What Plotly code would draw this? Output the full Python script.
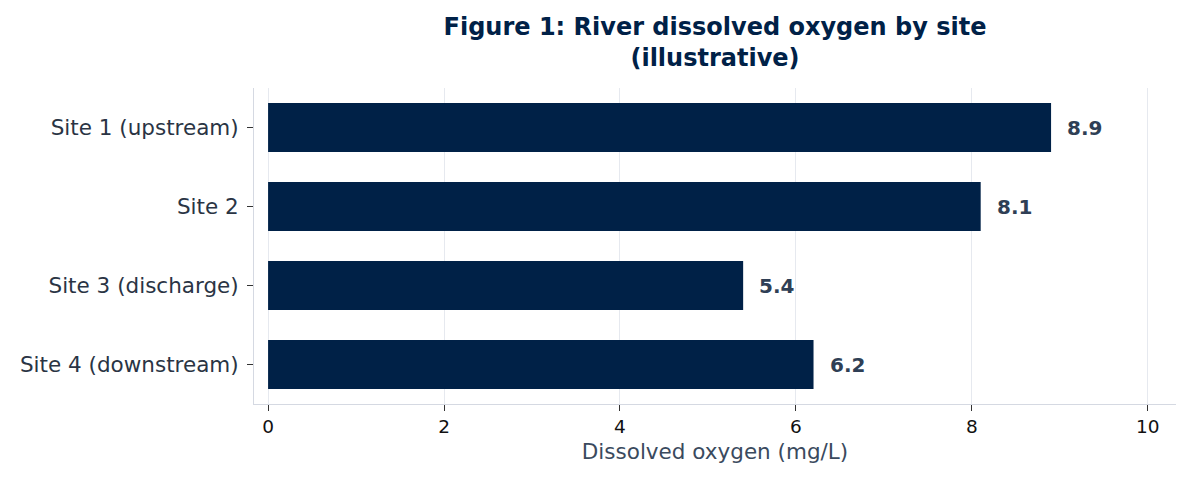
import plotly.graph_objects as go

sites = ["Site 1 (upstream)", "Site 2", "Site 3 (discharge)", "Site 4 (downstream)"]
oxygen = [8.9, 8.1, 5.4, 6.2]
x_ticks = [0, 2, 4, 6, 8, 10]

navy = "#002147"
font_family = "DejaVu Sans"

fig = go.Figure()
fig.add_trace(go.Bar(
    x=oxygen,
    y=sites,
    orientation="h",
    marker=dict(color=navy, line=dict(width=0)),
    width=0.62,
    hoverinfo="x+y",
))

# value labels just past the end of each bar
for site, val in zip(sites, oxygen):
    fig.add_annotation(
        x=val, y=site, text=f"<b>{val:.1f}</b>",
        showarrow=False, xanchor="left", xshift=14,
        font=dict(family=font_family, size=20, color="#2f3f55"),
    )

fig.update_layout(
    width=1196,
    height=481,
    margin=dict(l=246, r=28, t=80, b=85),
    paper_bgcolor="white",
    plot_bgcolor="white",
    font=dict(family=font_family),
    showlegend=False,
    title=dict(
        text="<b>Figure 1: River dissolved oxygen by site<br>(illustrative)</b>",
        x=0.5, xref="paper", xanchor="center",
        y=0.944, yref="container", yanchor="top",
        font=dict(family=font_family, size=24, color=navy),
    ),
)

fig.update_xaxes(
    range=[-0.16, 10.32],
    tickvals=x_ticks,
    ticks="outside", ticklen=6, tickcolor="#333333",
    tickfont=dict(family=font_family, size=18.5, color="#111111"),
    showgrid=True, gridcolor="#e6e9ef", gridwidth=1,
    showline=True, linecolor="#d5d9e2", linewidth=1,
    zeroline=False,
    title=dict(text="Dissolved oxygen (mg/L)", standoff=7,
               font=dict(family=font_family, size=21.5, color="#3a4a5e")),
)

fig.update_yaxes(
    autorange="reversed",
    ticks="outside", ticklen=6, tickcolor="#333333",
    ticklabelstandoff=4,
    tickfont=dict(family=font_family, size=21.5, color="#2a3444"),
    showgrid=False,
    showline=True, linecolor="#d5d9e2", linewidth=1,
    zeroline=False,
)

fig.write_html("out.html")
